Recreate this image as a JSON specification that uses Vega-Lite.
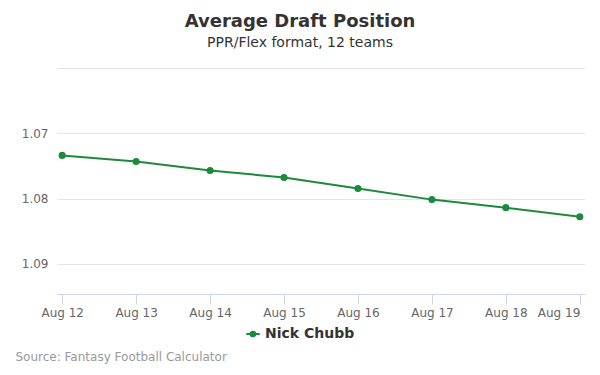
{
  "$schema": "https://vega.github.io/schema/vega-lite/v6.json",
  "width": 528,
  "height": 226,
  "autosize": {"type": "none"},
  "padding": {"left": 57, "top": 68, "right": 15, "bottom": 81},
  "background": "white",
  "config": {
    "font": "DejaVu Sans",
    "view": {"stroke": null}
  },
  "title": {
    "text": "Average Draft Position",
    "subtitle": "PPR/Flex format, 12 teams",
    "anchor": "middle",
    "dx": -21,
    "offset": 18,
    "font": "DejaVu Sans",
    "fontSize": 18,
    "fontWeight": "bold",
    "color": "#333333",
    "subtitleFont": "DejaVu Sans",
    "subtitleFontSize": 14,
    "subtitleColor": "#333333",
    "subtitlePadding": 5
  },
  "data": {
    "values": [
      {"date": "Aug 12", "adp": 1.07338, "player": "Nick Chubb"},
      {"date": "Aug 13", "adp": 1.07431, "player": "Nick Chubb"},
      {"date": "Aug 14", "adp": 1.07569, "player": "Nick Chubb"},
      {"date": "Aug 15", "adp": 1.07677, "player": "Nick Chubb"},
      {"date": "Aug 16", "adp": 1.07846, "player": "Nick Chubb"},
      {"date": "Aug 17", "adp": 1.08015, "player": "Nick Chubb"},
      {"date": "Aug 18", "adp": 1.08138, "player": "Nick Chubb"},
      {"date": "Aug 19", "adp": 1.08277, "player": "Nick Chubb"}
    ]
  },
  "encoding": {
    "x": {
      "field": "date",
      "type": "ordinal",
      "sort": null,
      "scale": {"type": "point", "padding": 0.07},
      "axis": {
        "title": "Source: Fantasy Football Calculator",
        "titleX": -42,
        "titleY": 62,
        "titleAlign": "left",
        "titleBaseline": "middle",
        "titleFontWeight": "normal",
        "titleColor": "#999999",
        "titleFontSize": 12,
        "labelAngle": 0,
        "labelColor": "#666666",
        "labelFontSize": 12,
        "labelPadding": 3,
        "labelAlign": {"expr": "datum.label == 'Aug 19' ? 'right' : 'center'"},
        "labelOverlap": false,
        "domainColor": "#ccd6eb",
        "tickColor": "#ccd6eb",
        "tickSize": 10,
        "grid": false
      }
    },
    "y": {
      "field": "adp",
      "type": "quantitative",
      "scale": {"domain": [1.06, 1.0946], "reverse": true, "nice": false, "zero": false},
      "axis": {
        "title": null,
        "values": [1.06, 1.07, 1.08, 1.09],
        "labelExpr": "datum.value < 1.065 ? '' : format(datum.value, '.2f')",
        "labelColor": "#666666",
        "labelFontSize": 12,
        "labelPadding": 9,
        "domain": false,
        "ticks": false,
        "gridColor": "#e6e6e6"
      }
    },
    "color": {
      "field": "player",
      "type": "nominal",
      "scale": {"range": ["#1b8a3a"]},
      "legend": {
        "title": null,
        "orient": "none",
        "legendX": 188,
        "legendY": 258,
        "labelFontSize": 14,
        "labelFontWeight": "bold",
        "labelColor": "#333333",
        "symbolType": "M -1 0 L 1 0 M -0.35 0 A 0.35 0.35 0 1 1 0.35 0 A 0.35 0.35 0 1 1 -0.35 0",
        "symbolSize": 180,
        "symbolStrokeWidth": 2,
        "symbolFillColor": "#1b8a3a",
        "symbolStrokeColor": "#1b8a3a"
      }
    }
  },
  "layer": [
    {"mark": {"type": "line", "strokeWidth": 2}},
    {"mark": {"type": "point", "filled": true, "size": 50, "opacity": 1}}
  ]
}
